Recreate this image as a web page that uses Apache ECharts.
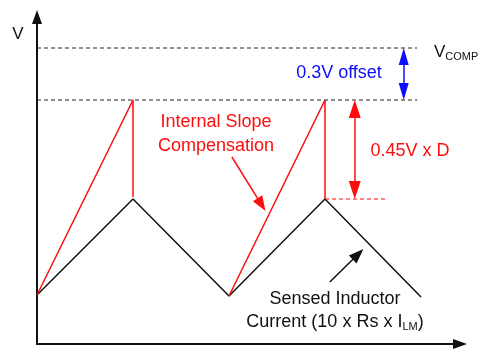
<!DOCTYPE html>
<html>
<head>
<meta charset="utf-8">
<script src="https://cdn.jsdelivr.net/npm/echarts@6/dist/echarts.min.js"></script>
<style>
  html,body{margin:0;padding:0;background:#fff;}
  #chart{width:482px;height:352px;}
</style>
</head>
<body>
<div id="chart"></div>
<script>
  // time in half-periods, level in arbitrary units
  var sensedT = [0, 1, 2, 3, 4]
  var sensedV = [0.49, 1.45, 0.48, 1.45, 0.47]
  var rampT = [[0, 1, 1], [2, 3, 3]]
  var rampV = [[0.49, 2.44, 1.47], [0.48, 2.44, 1.45]]
  var vcompLevel = 2.96
  var rampTop = 2.44
  var dashEnd = 3.96
  var peakDashT = [3, 3.63]
  var peakLevel = 1.45
  var slopeArrowT = 3.31
  var offsetArrowT = 3.82
  var slopePointer = [[2.03, 1.87], [2.38, 1.33]]
  var sensedPointer = [[3.05, 0.62], [3.40, 0.95]]

  var font = '"Liberation Sans", Arial, sans-serif'
  var fs = 18
  var red = '#ff0d0d', blue = '#0d0dff', ink = '#111'
  var gridL = 37, gridR = 22, gridT = 17, gridB = 8
  var W = 482, H = 352
  var xMax = (W - gridL - gridR) / 96
  var yMax = (H - gridT - gridB) / 100

  var chart = echarts.init(document.getElementById('chart'))

  function pairs(t, v) {
    var out = []
    t.forEach(function (x, i) { out.push([x, v[i]]) })
    return out
  }

  var series = []
  series.push({
    type: 'line', data: pairs(sensedT, sensedV), symbol: 'none',
    lineStyle: { color: ink, width: 1.5 }
  })
  rampT.forEach(function (t, i) {
    series.push({
      type: 'line', data: pairs(t, rampV[i]), symbol: 'none',
      lineStyle: { color: red, width: 1.5 }
    })
  })
  // dashed reference levels
  series.push({
    type: 'line', data: [[0, vcompLevel], [dashEnd, vcompLevel]], symbol: 'none',
    lineStyle: { color: '#222', width: 1, type: [4, 3] }
  })
  series.push({
    type: 'line', data: [[0, rampTop], [dashEnd, rampTop]], symbol: 'none',
    lineStyle: { color: '#222', width: 1, type: [4, 3] }
  })
  series.push({
    type: 'line', data: [[peakDashT[0], peakLevel], [peakDashT[1], peakLevel]], symbol: 'none',
    lineStyle: { color: red, width: 1, type: [4, 3] }
  })

  // arrows drawn with markLine, tips pulled in by half the symbol length
  function arrow(from, to, color, both, size) {
    var dx = to[0] - from[0], dy = to[1] - from[1]
    var px = dx * 96, py = dy * 100
    var len = Math.sqrt(px * px + py * py)
    var k = size[1] / 2 / len
    var a = both ? [from[0] + dx * k, from[1] + dy * k] : from
    var b = [to[0] - dx * k, to[1] - dy * k]
    return {
      type: 'line', data: [],
      markLine: {
        silent: true, animation: false,
        symbol: [both ? 'triangle' : 'none', 'triangle'],
        symbolSize: size,
        label: { show: false },
        lineStyle: { color: color, width: 1.5, type: 'solid' },
        data: [[{ coord: a }, { coord: b }]]
      }
    }
  }
  series.push(arrow([slopeArrowT, rampTop], [slopeArrowT, peakLevel], red, true, [12, 18]))
  series.push(arrow([offsetArrowT, vcompLevel], [offsetArrowT, rampTop], blue, true, [10, 17]))
  series.push(arrow(slopePointer[0], slopePointer[1], red, false, [11, 15]))
  series.push(arrow(sensedPointer[0], sensedPointer[1], ink, false, [11, 15]))

  function label(x, y, text, color, align, size, rich) {
    return {
      type: 'text', x: x, y: y, silent: true,
      style: {
        text: text, fill: color, font: (size || fs) + 'px ' + font,
        align: align || 'center', verticalAlign: 'middle', rich: rich || {}
      }
    }
  }
  var subRich = {
    s: { fontSize: 11, fontFamily: font, lineHeight: 20, padding: [9, 0, 0, 0] }
  }

  chart.setOption({
    animation: false,
    grid: { left: gridL, right: gridR, top: gridT, bottom: gridB },
    xAxis: {
      type: 'value', min: 0, max: xMax,
      axisLine: { lineStyle: { color: ink, width: 2 }, symbol: ['none', 'triangle'], symbolSize: [10, 14] },
      axisTick: { show: false }, axisLabel: { show: false }, splitLine: { show: false }
    },
    yAxis: {
      type: 'value', min: 0, max: yMax,
      axisLine: { onZero: false, lineStyle: { color: ink, width: 2 }, symbol: ['none', 'triangle'], symbolSize: [10, 14] },
      axisTick: { show: false }, axisLabel: { show: false }, splitLine: { show: false }
    },
    graphic: [
      label(18, 34, 'V', ink, 'center', 17),
      label(434, 52, 'V{s|COMP}', ink, 'left', 17, subRich),
      label(339, 73, '0.3V offset', blue),
      label(216, 122, 'Internal Slope', red),
      label(216, 146, 'Compensation', red),
      label(410, 151, '0.45V x D', red),
      label(335, 299, 'Sensed Inductor', ink),
      label(335, 322, 'Current (10 x Rs x I{s|LM})', ink, 'center', fs, subRich)
    ],
    series: series
  })
</script>
</body>
</html>
